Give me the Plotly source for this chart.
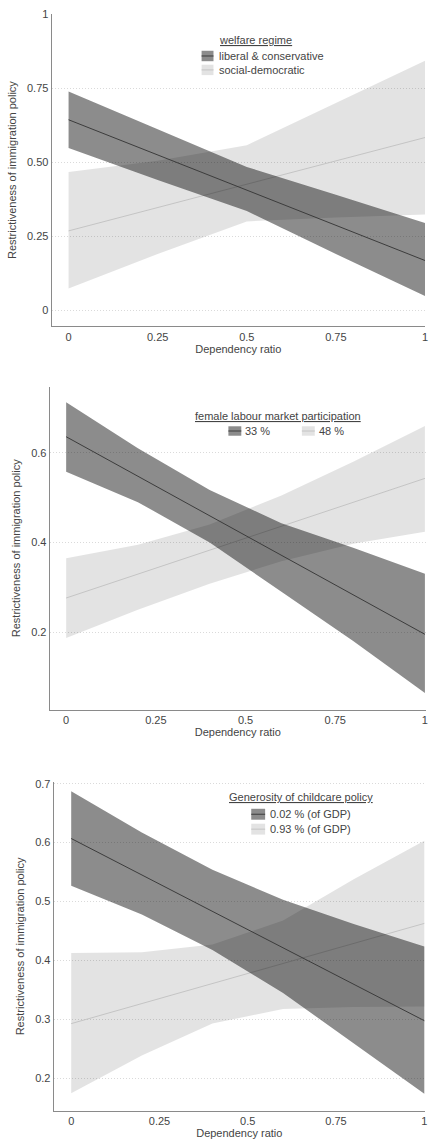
import plotly.graph_objects as go

W, H = 429, 1144

# ---------------- data ----------------
x_line = [0, 1]

# Panel 1: welfare regime
p1_x = [0, 0.25, 0.5, 0.75, 1]
p1_lib_mean = [0.643, 0.168]
p1_lib_upper = [0.738, 0.611, 0.484, 0.390, 0.295]
p1_lib_lower = [0.548, 0.440, 0.335, 0.190, 0.048]
p1_soc_mean = [0.268, 0.583]
p1_soc_upper = [0.467, 0.505, 0.557, 0.700, 0.842]
p1_soc_lower = [0.074, 0.190, 0.300, 0.313, 0.323]
p1_ticks = [0, 0.25, 0.5, 0.75, 1]
p1_ticklabels = ["0", "0.25", "0.50", "0.75", "1"]

# Panel 2: female labour market participation
p2_x = [0, 0.2, 0.4, 0.6, 0.8, 1]
p2_lo_mean = [0.636, 0.195]
p2_lo_upper = [0.713, 0.610, 0.517, 0.443, 0.388, 0.330]
p2_lo_lower = [0.558, 0.490, 0.400, 0.290, 0.180, 0.064]
p2_hi_mean = [0.276, 0.543]
p2_hi_upper = [0.365, 0.395, 0.440, 0.505, 0.580, 0.660]
p2_hi_lower = [0.187, 0.250, 0.308, 0.358, 0.397, 0.424]
p2_ticks = [0.2, 0.4, 0.6]
p2_ticklabels = ["0.2", "0.4", "0.6"]

# Panel 3: generosity of childcare policy
p3_x = [0, 0.2, 0.4, 0.6, 0.8, 1]
p3_lo_mean = [0.607, 0.298]
p3_lo_upper = [0.687, 0.617, 0.554, 0.503, 0.462, 0.424]
p3_lo_lower = [0.527, 0.478, 0.418, 0.345, 0.260, 0.174]
p3_hi_mean = [0.293, 0.463]
p3_hi_upper = [0.413, 0.414, 0.427, 0.468, 0.538, 0.603]
p3_hi_lower = [0.175, 0.239, 0.293, 0.318, 0.321, 0.322]
p3_ticks = [0.2, 0.3, 0.4, 0.5, 0.6, 0.7]
p3_ticklabels = ["0.2", "0.3", "0.4", "0.5", "0.6", "0.7"]

x_ticks = [0, 0.25, 0.5, 0.75, 1]
x_ticklabels = ["0", "0.25", "0.5", "0.75", "1"]

legend1_title = "welfare regime"
legend1_labels = ["liberal & conservative", "social-democratic"]
legend2_title = "female labour market participation"
legend2_labels = ["33 %", "48 %"]
legend3_title = "Generosity of childcare policy"
legend3_labels = ["0.02 % (of GDP)", "0.93 % (of GDP)"]

x_title = "Dependency ratio"
y_title = "Restrictiveness of immigration policy"

# ---------------- styles ----------------
DARK_FILL = "rgba(0,0,0,0.45)"
LIGHT_FILL = "rgba(0,0,0,0.11)"
DARK_LINE = "#3c3c3c"
LIGHT_LINE = "#c4c4c4"
FONT = "Liberation Sans, Arial, sans-serif"
TXT = "#444444"


def px(xp):
    return xp / W


def py(yp):
    return 1 - yp / H


fig = go.Figure()


def add_band(ax, xs, lower, upper, mean, fill, line, name):
    xa = "x" if ax == 1 else f"x{ax}"
    ya = "y" if ax == 1 else f"y{ax}"
    fig.add_trace(go.Scatter(
        x=list(xs) + list(xs)[::-1],
        y=list(upper) + list(lower)[::-1],
        fill="toself", fillcolor=fill, mode="lines",
        line=dict(width=0), hoverinfo="skip", showlegend=False,
        xaxis=xa, yaxis=ya, name=name))
    fig.add_trace(go.Scatter(
        x=x_line, y=mean, mode="lines", line=dict(color=line, width=1),
        showlegend=False, xaxis=xa, yaxis=ya, name=name))


add_band(1, p1_x, p1_soc_lower, p1_soc_upper, p1_soc_mean, LIGHT_FILL, LIGHT_LINE, legend1_labels[1])
add_band(1, p1_x, p1_lib_lower, p1_lib_upper, p1_lib_mean, DARK_FILL, DARK_LINE, legend1_labels[0])
add_band(2, p2_x, p2_hi_lower, p2_hi_upper, p2_hi_mean, LIGHT_FILL, LIGHT_LINE, legend2_labels[1])
add_band(2, p2_x, p2_lo_lower, p2_lo_upper, p2_lo_mean, DARK_FILL, DARK_LINE, legend2_labels[0])
add_band(3, p3_x, p3_hi_lower, p3_hi_upper, p3_hi_mean, LIGHT_FILL, LIGHT_LINE, legend3_labels[1])
add_band(3, p3_x, p3_lo_lower, p3_lo_upper, p3_lo_mean, DARK_FILL, DARK_LINE, legend3_labels[0])


def xaxis(dom, rng, anchor):
    return dict(domain=dom, range=rng, anchor=anchor,
                tickvals=x_ticks, ticktext=x_ticklabels,
                showgrid=False, zeroline=False, showline=True,
                linecolor="#8a8a8a", linewidth=1, ticks="",
                ticklabeloverflow="allow",
                tickfont=dict(family=FONT, size=11, color=TXT),
                title=dict(text=x_title, standoff=2,
                           font=dict(family=FONT, size=11, color=TXT)))


def yaxis(dom, rng, anchor, tv, tt):
    return dict(domain=dom, range=rng, anchor=anchor,
                tickvals=tv, ticktext=tt,
                showgrid=True, gridcolor="#dadada", griddash="1px,2px", gridwidth=1,
                zeroline=False, showline=True,
                linecolor="#8a8a8a", linewidth=1, ticks="",
                tickfont=dict(family=FONT, size=11, color=TXT),
                title=dict(text=y_title, standoff=8,
                           font=dict(family=FONT, size=11, color=TXT)))


layout = dict(
    width=W, height=H,
    margin=dict(l=0, r=0, t=0, b=0),
    paper_bgcolor="white", plot_bgcolor="white",
    showlegend=False,
    font=dict(family=FONT, size=11, color=TXT),
    xaxis=xaxis([px(52), px(428)], [-0.0475, 1.0], "y"),
    yaxis=yaxis([py(322), py(8)], [-0.054, 1.0], "x", p1_ticks, p1_ticklabels),
    xaxis2=xaxis([px(50), 1.0], [-0.046, 1.003], "y2"),
    yaxis2=yaxis([py(707.3), py(383)], [0.027, 0.747], "x2", p2_ticks, p2_ticklabels),
    xaxis3=xaxis([px(54), px(428)], [-0.0498, 1.002], "y3"),
    yaxis3=yaxis([py(1110.7), py(780)], [0.145, 0.703], "x3", p3_ticks, p3_ticklabels),
)
fig.update_layout(**layout)

shapes = []
annotations = []


def swatch(x0, y0, x1, y1, fill, line):
    shapes.append(dict(type="rect", xref="paper", yref="paper",
                       x0=px(x0), x1=px(x1), y0=py(y1), y1=py(y0),
                       fillcolor=fill, line=dict(width=0), layer="above"))
    ym = (y0 + y1) / 2
    shapes.append(dict(type="line", xref="paper", yref="paper",
                       x0=px(x0), x1=px(x1), y0=py(ym), y1=py(ym),
                       line=dict(color=line, width=1), layer="above"))


def text(x, y, s, anchor="left"):
    annotations.append(dict(xref="paper", yref="paper", x=px(x), y=py(y),
                            text=s, showarrow=False, xanchor=anchor, yanchor="middle",
                            font=dict(family=FONT, size=11, color=TXT)))


# Legend panel 1
text(257.5, 34, f"<u>{legend1_title}</u>", "center")
swatch(203, 45, 215, 55.5, DARK_FILL, DARK_LINE)
text(219, 50, legend1_labels[0])
swatch(203, 59, 215, 69.5, LIGHT_FILL, LIGHT_LINE)
text(219, 64, legend1_labels[1])

# Legend panel 2
text(280, 412.5, f"<u>{legend2_title}</u>", "center")
swatch(230, 422.5, 243, 432, DARK_FILL, DARK_LINE)
text(245, 427, legend2_labels[0])
swatch(304, 422.5, 317, 432, LIGHT_FILL, LIGHT_LINE)
text(319, 427, legend2_labels[1])

# Legend panel 3
text(303, 795, f"<u>{legend3_title}</u>", "center")
swatch(253, 807, 267, 818, DARK_FILL, DARK_LINE)
text(270, 812.5, legend3_labels[0])
swatch(253, 822, 267, 833, LIGHT_FILL, LIGHT_LINE)
text(270, 827.5, legend3_labels[1])

fig.update_layout(shapes=shapes, annotations=annotations)

fig.write_html(
    "out.html",
    config={"displayModeBar": False},
    post_script="document.body.style.margin='0';document.body.style.overflow='hidden';",
)
